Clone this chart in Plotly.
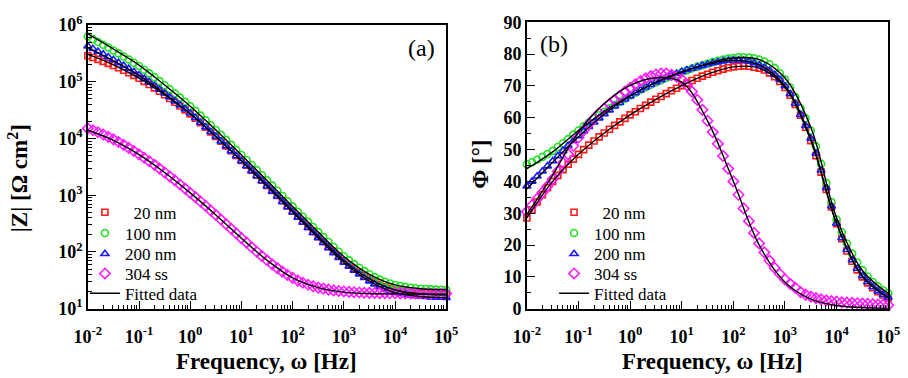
import plotly.graph_objects as go

# ---------------- data ----------------
freq = [0.01, 0.0126, 0.0158, 0.02, 0.0251, 0.0316, 0.0398, 0.0501, 0.0631, 0.0794,
        0.1, 0.126, 0.158, 0.2, 0.251, 0.316, 0.398, 0.501, 0.631, 0.794,
        1, 1.26, 1.58, 2, 2.51, 3.16, 3.98, 5.01, 6.31, 7.94,
        10, 12.6, 15.8, 20, 25.1, 31.6, 39.8, 50.1, 63.1, 79.4,
        100, 126, 158, 200, 251, 316, 398, 501, 631, 794,
        1000, 1260, 1580, 2000, 2510, 3160, 3980, 5010, 6310, 7940,
        10000, 12600, 15800, 20000, 25100, 31600, 39800, 50100, 63100, 79400, 100000]

z_20nm = [2.88e5, 2.69e5, 2.49e5, 2.30e5, 2.12e5, 1.94e5, 1.77e5, 1.60e5, 1.45e5, 1.30e5,
          1.16e5, 1.02e5, 8.97e4, 7.84e4, 6.82e4, 5.91e4, 5.09e4, 4.38e4, 3.76e4, 3.21e4,
          2.73e4, 2.28e4, 1.90e4, 1.58e4, 1.31e4, 1.09e4, 8.99e3, 7.43e3, 6.11e3, 5.02e3,
          4.12e3, 3.38e3, 2.76e3, 2.25e3, 1.84e3, 1.49e3, 1.22e3, 988, 800, 648,
          525, 427, 348, 283, 231, 188, 153, 125, 103, 84.6,
          70.0, 59.5, 50.9, 43.9, 38.1, 33.4, 29.6, 26.7, 24.4, 22.7,
          21.3, 20.4, 19.7, 19.1, 18.7, 18.3, 18.1, 17.9, 17.7, 17.6, 17.5]
z_100nm = [6.31e5, 5.66e5, 5.06e5, 4.52e5, 4.03e5, 3.58e5, 3.18e5, 2.81e5, 2.48e5, 2.17e5,
           1.91e5, 1.64e5, 1.41e5, 1.21e5, 1.03e5, 8.73e4, 7.40e4, 6.25e4, 5.27e4, 4.44e4,
           3.72e4, 3.08e4, 2.54e4, 2.09e4, 1.72e4, 1.42e4, 1.16e4, 9.48e3, 7.73e3, 6.30e3,
           5.13e3, 4.19e3, 3.41e3, 2.77e3, 2.25e3, 1.83e3, 1.48e3, 1.20e3, 968, 782,
           631, 513, 417, 339, 276, 224, 183, 150, 122, 101,
           83.2, 71.0, 61.0, 52.7, 45.9, 40.4, 36.0, 32.5, 29.9, 27.8,
           26.2, 25.1, 24.2, 23.4, 22.9, 22.5, 22.2, 21.9, 21.7, 21.5, 21.4]
z_200nm = [4.27e5, 3.84e5, 3.44e5, 3.08e5, 2.75e5, 2.45e5, 2.18e5, 1.93e5, 1.71e5, 1.50e5,
           1.32e5, 1.14e5, 9.91e4, 8.54e4, 7.35e4, 6.29e4, 5.37e4, 4.58e4, 3.89e4, 3.30e4,
           2.79e4, 2.32e4, 1.92e4, 1.59e4, 1.32e4, 1.09e4, 8.93e3, 7.35e3, 6.01e3, 4.92e3,
           4.03e3, 3.29e3, 2.69e3, 2.19e3, 1.78e3, 1.44e3, 1.17e3, 950, 767, 620,
           501, 407, 330, 268, 218, 177, 145, 118, 96.4, 79.1,
           65.3, 55.3, 47.2, 40.6, 35.1, 30.6, 27.1, 24.3, 22.2, 20.5,
           19.2, 18.4, 17.7, 17.1, 16.7, 16.4, 16.2, 16.0, 15.8, 15.7, 15.6]
z_304ss = [1.51e4, 1.40e4, 1.29e4, 1.18e4, 1.07e4, 9.68e3, 8.69e3, 7.74e3, 6.85e3, 6.03e3,
           5.27e3, 4.59e3, 3.98e3, 3.44e3, 2.95e3, 2.52e3, 2.15e3, 1.83e3, 1.55e3, 1.31e3,
           1.10e3, 927, 776, 649, 541, 450, 373, 309, 256, 212,
           175, 146, 121, 101, 84.5, 71.3, 60.5, 51.9, 44.9, 39.3,
           34.8, 31.3, 28.6, 26.4, 24.8, 23.5, 22.5, 21.7, 21.0, 20.5,
           20.1, 19.8, 19.5, 19.3, 19.1, 19.0, 18.9, 18.8, 18.75, 18.7,
           18.7, 18.6, 18.6, 18.6, 18.6, 18.5, 18.5, 18.5, 18.5, 18.5, 18.5]

phi_20nm = [28.5, 31.0, 33.5, 35.8, 38.0, 40.0, 41.9, 43.7, 45.4, 47.0,
            48.5, 50.0, 51.4, 52.7, 54.0, 55.2, 56.4, 57.6, 58.7, 59.8,
            60.9, 61.9, 62.9, 63.9, 64.9, 65.8, 66.7, 67.6, 68.5, 69.3,
            70.1, 70.9, 71.7, 72.4, 73.1, 73.7, 74.3, 74.8, 75.3, 75.7,
            76.0, 76.2, 76.3, 76.2, 75.9, 75.6, 75.0, 74.1, 72.9, 71.4,
            69.5, 67.1, 64.2, 60.8, 57.0, 52.8, 48.1, 42.9, 37.5, 32.0,
            26.7, 22.0, 18.1, 14.9, 12.2, 10.0, 8.1, 6.6, 5.3, 4.3, 3.4]
phi_100nm = [45.4, 46.0, 46.8, 47.7, 48.6, 49.6, 50.8, 52.0, 53.3, 54.7,
             56.0, 57.3, 58.5, 59.7, 60.8, 61.9, 63.0, 64.0, 65.0, 66.0,
             67.0, 67.9, 68.8, 69.6, 70.4, 71.1, 71.8, 72.5, 73.1, 73.7,
             74.3, 74.9, 75.5, 76.0, 76.5, 77.0, 77.5, 77.9, 78.3, 78.6,
             78.8, 79.0, 79.0, 78.9, 78.7, 78.3, 77.7, 76.8, 75.6, 74.0,
             72.0, 69.5, 66.5, 63.0, 59.8, 56.0, 51.0, 45.5, 39.5, 33.5,
             28.0, 24.0, 20.5, 17.3, 14.5, 12.1, 10.1, 8.4, 7.0, 5.8, 4.8]
phi_200nm = [38.5, 40.0, 41.6, 43.2, 44.8, 46.4, 48.0, 49.6, 51.2, 52.8,
             54.3, 55.8, 57.2, 58.6, 59.9, 61.2, 62.4, 63.6, 64.7, 65.8,
             66.8, 67.8, 68.7, 69.6, 70.4, 71.2, 71.9, 72.6, 73.3, 73.9,
             74.5, 75.0, 75.5, 76.0, 76.4, 76.8, 77.2, 77.5, 77.8, 78.0,
             78.1, 78.1, 78.0, 77.7, 77.2, 76.6, 75.8, 74.8, 73.5, 72.0,
             70.0, 67.5, 64.5, 61.0, 57.5, 53.5, 48.8, 43.5, 38.0, 32.2,
             26.8, 22.2, 18.5, 15.3, 12.6, 10.3, 8.4, 6.8, 5.5, 4.4, 3.5]
phi_304ss = [30.5, 32.5, 34.5, 36.5, 38.5, 40.7, 43.2, 45.8, 48.5, 51.2,
             53.8, 56.0, 58.0, 59.8, 61.4, 62.9, 64.3, 65.6, 66.9, 68.2,
             69.4, 70.5, 71.5, 72.4, 73.1, 73.6, 73.9, 73.9, 73.5, 72.9,
             72.0, 70.2, 68.2, 65.6, 62.5, 59.0, 55.5, 51.8, 48.0, 44.0,
             40.0, 35.8, 31.5, 27.5, 23.8, 20.5, 17.7, 15.1, 12.8, 10.9,
             9.2, 7.8, 6.6, 5.2, 4.4, 3.8, 3.3, 2.9, 2.6, 2.4,
             2.2, 2.0, 1.9, 1.8, 1.7, 1.6, 1.5, 1.4, 1.3, 1.2, 1.1]

# fitted curves (half-decade points)
freq_fit = [0.01, 0.0316, 0.1, 0.316, 1, 3.16, 10, 31.6, 100, 316, 1000, 3162, 10000, 31623, 100000]
zfit_20nm = [3.05e5, 2.0e5, 1.16e5, 5.91e4, 2.73e4, 1.09e4, 4.12e3, 1.49e3, 525, 188, 70, 33.4, 21.3, 18.3, 17.5]
zfit_100nm = [7.0e5, 3.8e5, 1.98e5, 8.8e4, 3.72e4, 1.42e4, 5.13e3, 1.83e3, 631, 224, 83.2, 40.4, 26.2, 22.5, 21.4]
zfit_200nm = [4.0e5, 2.35e5, 1.30e5, 6.25e4, 2.79e4, 1.09e4, 4.03e3, 1.44e3, 501, 177, 65.3, 30.6, 19.2, 16.4, 15.6]
zfit_304ss = [1.40e4, 9.3e3, 5.2e3, 2.52e3, 1.10e3, 450, 175, 71.3, 34.8, 23.5, 19.6, 18.5, 18.2, 18.0, 18.0]
phifit_20nm = [28.5, 40.0, 48.5, 55.2, 60.9, 65.8, 70.1, 73.7, 76.0, 75.6, 69.5, 52.8, 26.7, 10.0, 3.4]
phifit_100nm = [44.0, 49.3, 56.0, 62.0, 67.0, 71.1, 74.3, 77.0, 78.8, 78.3, 72.5, 57.0, 28.5, 12.0, 4.8]
phifit_200nm = [37.6, 46.0, 54.0, 61.2, 66.8, 71.2, 74.5, 76.8, 78.1, 76.6, 70.0, 53.5, 26.8, 10.3, 3.5]
phifit_304ss = [29.6, 42.0, 55.5, 64.5, 70.2, 72.6, 71.2, 59.0, 40.0, 20.0, 8.3, 3.0, 1.0, 0.35, 0.1]

labels = ['&nbsp;&nbsp;20 nm', '100 nm', '200 nm', '304 ss']
fit_label = 'Fitted data'
x_tick_labels = ['10<sup>-2</sup>', '10<sup>-1</sup>', '10<sup>0</sup>', '10<sup>1</sup>',
                 '10<sup>2</sup>', '10<sup>3</sup>', '10<sup>4</sup>', '10<sup>5</sup>']
y_tick_labels = ['10<sup>1</sup>', '10<sup>2</sup>', '10<sup>3</sup>', '10<sup>4</sup>',
                 '10<sup>5</sup>', '10<sup>6</sup>']

# ---------------- styling ----------------
FONT = 'Liberation Serif'
colors = ['#ff1a1a', '#22e022', '#1a1aff', '#ff1aff']
symbols = ['square-open', 'circle-open', 'triangle-up-open', 'diamond-open']
msizes = [6, 7, 7, 8]

z_data = [z_20nm, z_100nm, z_200nm, z_304ss]
phi_data = [phi_20nm, phi_100nm, phi_200nm, phi_304ss]
z_fits = [zfit_20nm, zfit_100nm, zfit_200nm, zfit_304ss]
phi_fits = [phifit_20nm, phifit_100nm, phifit_200nm, phifit_304ss]

# one small legend per entry so the row spacing matches the original
legend_rows = [211, 233, 255, 276, 297]          # pixel centres of legend rows
legend_left = {0: 73, 1: 556}                    # pixel x of each panel's legend box
legend_font = dict(family=FONT, size=17, color='black')

fig = go.Figure()
legend_layout = {}
for panel, (data, fits, xa, ya) in enumerate([
        (z_data, z_fits, 'x', 'y'),
        (phi_data, phi_fits, 'x2', 'y2')]):
    for i in range(5):
        n = panel * 5 + i + 1
        key = 'legend' if n == 1 else f'legend{n}'
        legend_layout[key] = dict(
            x=legend_left[panel] / 908, y=1 - (legend_rows[i] - 17) / 378,
            xanchor='left', yanchor='top', bgcolor='rgba(0,0,0,0)',
            font=legend_font, borderwidth=0, tracegroupgap=0)
    for i in range(4):
        n = panel * 5 + i + 1
        key = 'legend' if n == 1 else f'legend{n}'
        fig.add_trace(go.Scatter(
            x=freq, y=data[i], mode='markers', name=labels[i],
            xaxis=xa, yaxis=ya, legend=key, cliponaxis=False,
            marker=dict(symbol=symbols[i], size=msizes[i], color=colors[i],
                        line=dict(color=colors[i], width=1.6))))
    fit_key = f'legend{panel * 5 + 5}'
    for i in range(4):
        fig.add_trace(go.Scatter(
            x=freq_fit, y=fits[i], mode='lines', name=fit_label,
            xaxis=xa, yaxis=ya, legend=fit_key, showlegend=(i == 0),
            line=dict(color='black', width=1.4, shape='spline')))

tickfont = dict(family=FONT, size=18, color='black', weight='bold')
decades_x = [10.0 ** e for e in range(-2, 6)]
minor_x = [m * 10.0 ** e for e in range(-2, 5) for m in range(2, 10)]
decades_y = [10.0 ** e for e in range(1, 7)]
minor_y = [m * 10.0 ** e for e in range(1, 6) for m in range(2, 10)]

common = dict(showline=True, linecolor='black', linewidth=1.5, mirror=True,
              showgrid=False, zeroline=False, ticks='inside', ticklen=8,
              tickwidth=1.2, tickcolor='black', tickfont=tickfont)

xaxis_log = dict(type='log', range=[-2, 5], tickmode='array', tickvals=decades_x,
                 ticktext=x_tick_labels, ticklabelstandoff=11,
                 minor=dict(tickmode='array', tickvals=minor_x, ticks='inside',
                            ticklen=4, tickcolor='black', showgrid=False), **common)

fig.update_layout(
    width=908, height=378, autosize=False,
    margin=dict(l=0, r=0, t=0, b=0),
    paper_bgcolor='white', plot_bgcolor='white',
    font=dict(family=FONT, color='black'),
    xaxis=dict(domain=[0.0837, 0.4901], anchor='y', **xaxis_log),
    yaxis=dict(domain=[0.1667, 0.963], anchor='x', type='log', range=[1, 6],
               tickmode='array', tickvals=decades_y, ticktext=y_tick_labels,
               minor=dict(tickmode='array', tickvals=minor_y, ticks='inside',
                          ticklen=4, tickcolor='black', showgrid=False), **common),
    xaxis2=dict(domain=[0.5815, 0.9912], anchor='y2', **xaxis_log),
    yaxis2=dict(domain=[0.1667, 0.971], anchor='x2', range=[0, 90], dtick=10,
                minor=dict(dtick=5, ticks='inside', ticklen=4, tickcolor='black',
                           showgrid=False), **common),
    showlegend=True,
    **legend_layout,
)

title_font = dict(family=FONT, size=23, color='black')
annotations = [
    dict(x=260 / 908, y=0, yanchor='bottom', yshift=-8,
         text='<b>Frequency, ω [Hz]</b>', font=title_font),
    dict(x=719 / 908, y=0, yanchor='bottom', yshift=-8,
         text='<b>Frequency, ω [Hz]</b>', font=title_font),
    dict(x=0, xanchor='left', xshift=-12, y=1 - 177 / 378,
         text='<b>|Z| [Ω cm<sup>2</sup>]</b>', font=title_font, textangle=-90),
    dict(x=480 / 908, y=1 - 162 / 378, text='<b>Φ [°]</b>', font=title_font, textangle=-90),
    dict(x=420 / 908, y=1 - 38 / 378, text='(a)', font=dict(family=FONT, size=24, color='black')),
    dict(x=556 / 908, y=1 - 34 / 378, text='(b)', font=dict(family=FONT, size=24, color='black')),
]
for a in annotations:
    a.setdefault('xanchor', 'center')
    a.setdefault('yanchor', 'middle')
    a.update(xref='paper', yref='paper', showarrow=False)
fig.update_layout(annotations=annotations)

fig.write_html('out.html')
